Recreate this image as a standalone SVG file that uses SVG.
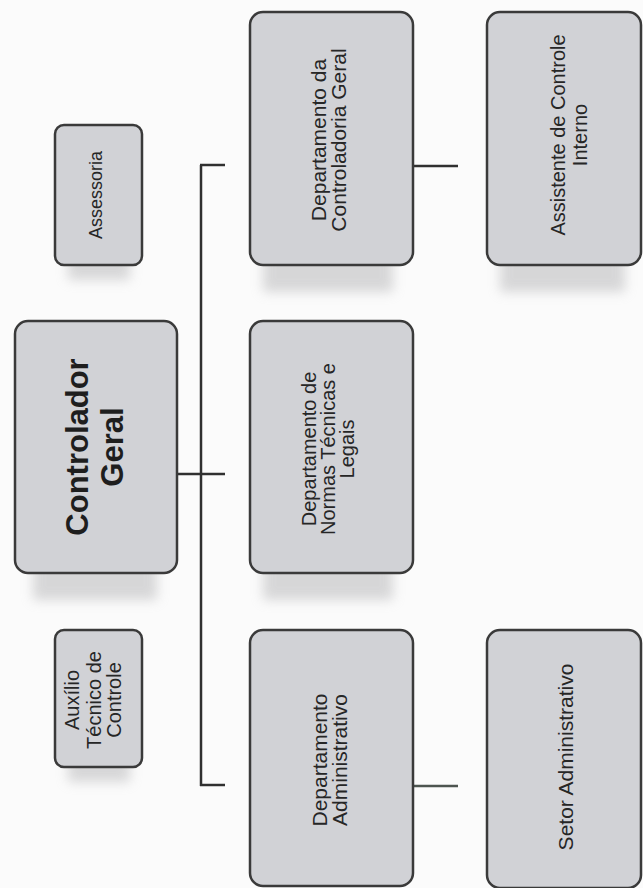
<svg xmlns="http://www.w3.org/2000/svg" width="643" height="888" viewBox="0 0 643 888">
  <defs>
    <filter id="blur" x="-30%" y="-60%" width="160%" height="220%">
      <feGaussianBlur stdDeviation="6"/>
    </filter>
    <style>
      .box { fill: #d1d2d6; stroke: #3a3a3a; stroke-width: 2.5; }
      .shadow { fill: #b9b9bb; opacity: 0.55; filter: url(#blur); }
      .lbl { font-family: "Liberation Sans", Arial, sans-serif; font-size: 20px; fill: #262626; text-anchor: middle; }
      .big { font-size: 31px; font-weight: bold; fill: #1e1e1e; }
      .line { stroke: #303030; stroke-width: 2.5; fill: none; }
      .dot { stroke: #8a8a8a; stroke-width: 2; stroke-dasharray: 2 2; fill: none; }
    </style>
  </defs>
  <rect width="643" height="888" fill="#fbfbfb"/>

  <g id="connectors">
    <line class="line" x1="201" y1="165" x2="201" y2="786"/>
    <line class="line" x1="200" y1="165" x2="225" y2="165"/>
    <line class="line" x1="177" y1="474" x2="225" y2="474"/>
    <line class="line" x1="200" y1="785" x2="225" y2="785"/>
    <line class="dot" x1="143" y1="474" x2="176" y2="474"/>
    <line class="dot" x1="392" y1="166" x2="411" y2="166"/>
    <line class="line" x1="412" y1="166" x2="458" y2="166"/>
    <line class="dot" x1="387" y1="786" x2="411" y2="786"/>
    <line class="line" x1="412" y1="786" x2="458" y2="786" style="stroke:#4d5550"/>
  </g>

  <g id="assessoria">
    <rect class="shadow" x="68" y="250" width="62" height="30"/>
    <rect class="box" x="55" y="125" width="87" height="140" rx="9"/>
    <text class="lbl" font-size="18" style="font-size:18px" transform="translate(98.5,195) rotate(-90)"><tspan x="0" y="3">Assessoria</tspan></text>
  </g>

  <g id="controlador-geral">
    <rect class="shadow" x="33" y="555" width="124" height="45"/>
    <rect class="box" x="15" y="321" width="162" height="252" rx="13"/>
    <text class="lbl big" transform="translate(96,447) rotate(-90)"><tspan x="0" y="-8">Controlador</tspan><tspan x="0" y="27">Geral</tspan></text>
  </g>

  <g id="auxilio">
    <rect class="shadow" x="68" y="752" width="62" height="30"/>
    <rect class="box" x="55" y="630" width="87" height="137" rx="9"/>
    <text class="lbl" transform="translate(98.5,700) rotate(-90)"><tspan x="0" y="-19.5">Auxílio</tspan><tspan x="0" y="2">Técnico de</tspan><tspan x="0" y="22">Controle</tspan></text>
  </g>

  <g id="dept-controladoria">
    <rect class="shadow" x="263" y="250" width="130" height="42"/>
    <rect class="box" x="250" y="12" width="163" height="253" rx="13"/>
    <text class="lbl" style="font-size:21px" transform="translate(331.5,140) rotate(-90)"><tspan x="0" y="-6">Departamento da</tspan><tspan x="0" y="14.5">Controladoria Geral</tspan></text>
  </g>

  <g id="dept-normas">
    <rect class="shadow" x="263" y="558" width="130" height="42"/>
    <rect class="box" x="250" y="321" width="163" height="252" rx="13"/>
    <text class="lbl" transform="translate(331.5,449) rotate(-90)"><tspan x="0" y="-15.5">Departamento de</tspan><tspan x="0" y="3.5">Normas Técnicas e</tspan><tspan x="0" y="22.5">Legais</tspan></text>
  </g>

  <g id="dept-administrativo">
    <rect class="box" x="250" y="630" width="163" height="256" rx="13"/>
    <text class="lbl" style="font-size:21px" transform="translate(331.5,760) rotate(-90)"><tspan x="0" y="-5">Departamento</tspan><tspan x="0" y="15">Administrativo</tspan></text>
  </g>

  <g id="assistente">
    <rect class="shadow" x="500" y="250" width="125" height="42"/>
    <rect class="box" x="487" y="12" width="154" height="253" rx="13"/>
    <text class="lbl" transform="translate(564.5,135) rotate(-90)"><tspan x="0" y="0.5">Assistente de Controle</tspan><tspan x="0" y="22.5">Interno</tspan></text>
  </g>

  <g id="setor-administrativo">
    <rect class="box" x="487" y="630" width="154" height="258" rx="13"/>
    <text class="lbl" style="font-size:21px" transform="translate(564.5,757) rotate(-90)"><tspan x="0" y="8.5">Setor Administrativo</tspan></text>
  </g>
</svg>
